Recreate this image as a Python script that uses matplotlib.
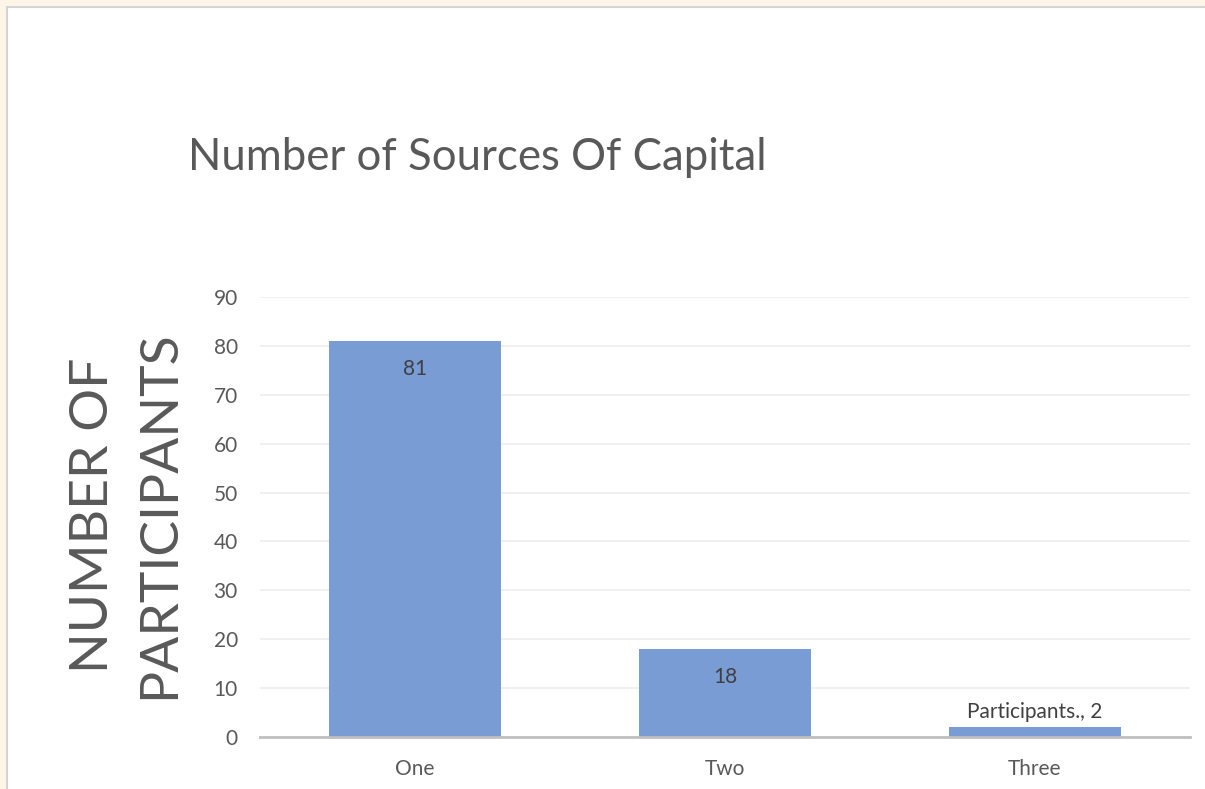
import matplotlib
matplotlib.use("Agg")
import matplotlib.pyplot as plt
from matplotlib.patches import Rectangle

categories = ["One", "Two", "Three"]
participants = [81, 18, 2]
label_texts = ["81", "18", "Participants., 2"]
y_ticks = [0, 10, 20, 30, 40, 50, 60, 70, 80, 90]

W, H = 1205, 789
fig = plt.figure(figsize=(W / 100, H / 100), dpi=100)
fig.patch.set_facecolor("#FDF5E8")

# white chart area with a thin grey frame
fig.patches.append(Rectangle((7 / W, -0.05), 1.1, 1 - 7 / H + 0.05,
                             transform=fig.transFigure, facecolor="white",
                             edgecolor="#D4D4D4", linewidth=1.5, zorder=0))

font = ["Lato", "DejaVu Sans"]
text_color = "#595959"

ax = fig.add_axes([260 / W, 1 - 737 / H, 930 / W, 440 / H])
ax.set_zorder(2)
ax.set_facecolor("none")
x = list(range(len(categories)))
bars = ax.bar(x, participants, width=0.555, color="#7A9CD5", zorder=3)
ax.set_xlim(-0.5, len(categories) - 0.5)
ax.set_ylim(0, 90)
ax.set_yticks(y_ticks)
ax.set_yticklabels([str(t) for t in y_ticks], fontsize=15, color=text_color, family=font)
ax.set_xticks(x)
ax.set_xticklabels(categories, fontsize=15, color=text_color, family=font)
ax.tick_params(axis="both", length=0)
ax.tick_params(axis="y", pad=16)
ax.tick_params(axis="x", pad=16)
ax.yaxis.grid(True, color="#EDEDED", linewidth=1.2, zorder=0)
for s in ["top", "right", "left"]:
    ax.spines[s].set_visible(False)
ax.spines["bottom"].set_color("#BFBFBF")
ax.spines["bottom"].set_linewidth(2)
ax.spines["bottom"].set_zorder(4)

for xi, v, t in zip(x, participants, label_texts):
    offset = -20 if v > 10 else 11
    ax.annotate(t, (xi, v), xytext=(0, offset), textcoords="offset points",
                ha="center", va="center", fontsize=15, color="#404040", family=font)

fig.text(188 / W, 1 - 157 / H, "Number of Sources Of Capital", fontsize=31.5,
         color=text_color, family=font, ha="left", va="center")
fig.text(127 / W, 1 - 515 / H, "NUMBER OF\nPARTICIPANTS", fontsize=38.5,
         color=text_color, family=font, rotation=90, ha="center", va="center",
         linespacing=1.5)

fig.savefig("out.png", dpi=100, facecolor=fig.get_facecolor())
